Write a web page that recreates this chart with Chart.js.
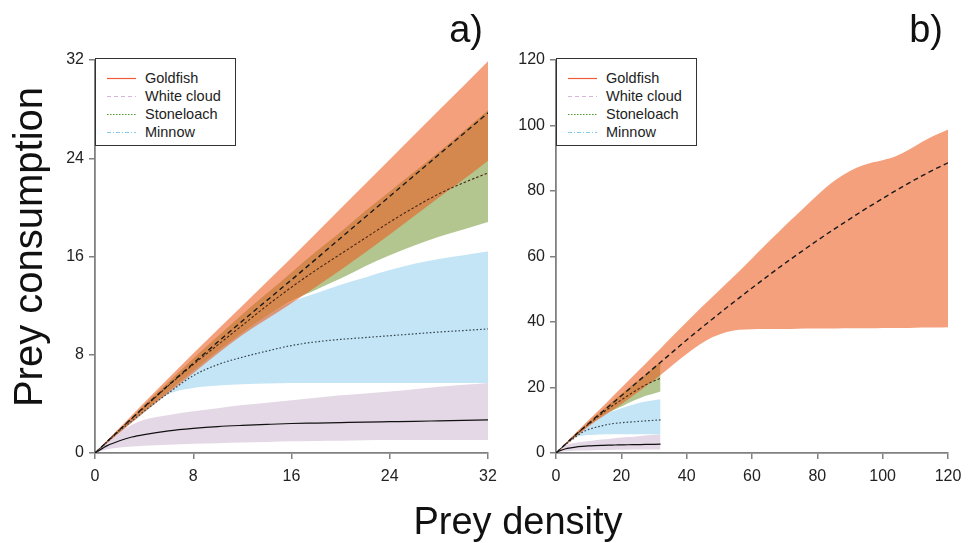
<!DOCTYPE html>
<html><head><meta charset="utf-8">
<script src="https://cdn.jsdelivr.net/npm/chart.js@4.4.1/dist/chart.umd.min.js"></script>
<style>
body{margin:0;background:#fff;}
#wrap{position:relative;width:970px;height:543px;overflow:hidden;background:#fff;font-family:"Liberation Sans",Arial,sans-serif;}
canvas{position:absolute;top:0;}
.lbl{position:absolute;color:#111;white-space:nowrap;}
.legend{position:absolute;top:58px;width:141px;height:88px;border:1px solid #333;background:#fff;box-sizing:border-box;}
.row{position:absolute;left:0;width:140px;height:18px;font-size:14.5px;line-height:18px;color:#222;}
.row svg{position:absolute;left:11px;top:8px;}
.row span{position:absolute;left:49px;top:0;}
</style></head>
<body>
<div id="wrap">
  <canvas id="ca" width="500" height="543" style="left:0px"></canvas>
  <canvas id="cb" width="510" height="543" style="left:460px"></canvas>
  <div class="lbl" style="left:400px;width:83px;text-align:right;top:10px;font-size:38px;line-height:38px;">a)</div>
  <div class="lbl" style="left:860px;width:83px;text-align:right;top:10px;font-size:38px;line-height:38px;">b)</div>
  <div class="lbl" style="left:-172px;top:227px;width:400px;height:40px;line-height:40px;text-align:center;font-size:40px;transform:rotate(-90deg);">Prey consumption</div>
  <div class="lbl" style="left:318px;top:502px;width:400px;height:38px;line-height:38px;text-align:center;font-size:38px;">Prey density</div>
  <div id="legA" class="legend" style="left:95px;"></div>
  <div id="legB" class="legend" style="left:556px;"></div>
</div>
<script>
// ---------- data ----------
const xA = [0,1,2,3,4,6,8,10,12,14,16,18,20,22,24,26,28,30,32];
// White cloud
const wcMean  = [0,0.6,1.0,1.3,1.5,1.8,2.0,2.15,2.25,2.33,2.4,2.44,2.48,2.52,2.55,2.58,2.62,2.66,2.7];
const wcUpper = [0,1.0,1.7,2.3,2.7,3.1,3.4,3.65,3.9,4.1,4.3,4.5,4.7,4.85,5.0,5.2,5.4,5.55,5.7];
const wcLower = [0,0.3,0.45,0.53,0.6,0.68,0.75,0.8,0.85,0.9,0.95,0.98,1.0,1.03,1.05,1.05,1.05,1.05,1.05];
// Minnow
const mnMean  = [0,0.9,1.8,2.6,3.4,4.9,6.3,7.2,7.8,8.3,8.75,9.05,9.25,9.4,9.55,9.7,9.85,9.97,10.1];
const mnUpper = [0,0.9,1.8,2.7,3.6,5.3,7.0,8.6,10.0,11.3,12.3,13.0,13.7,14.3,14.9,15.4,15.8,16.1,16.4];
const mnLower = [0,0.85,1.7,2.5,3.3,4.8,5.3,5.5,5.6,5.65,5.7,5.7,5.7,5.7,5.7,5.7,5.7,5.7,5.7];
// Stoneloach
const stMean  = [0,0.95,1.9,2.8,3.7,5.5,7.2,8.8,10.4,12.0,13.5,14.9,16.2,17.5,18.8,20.0,21.1,22.0,22.8];
const stUpper = [0,0.98,1.95,2.9,3.9,5.8,7.7,9.5,11.3,13.0,14.7,16.4,18.0,19.7,21.3,22.9,24.5,26.2,27.9];
const stLower = [0,0.85,1.7,2.55,3.4,5.05,6.7,8.3,9.8,11.2,12.4,13.3,14.2,15.2,16.1,16.9,17.6,18.2,18.8];
// Goldfish
const xG = [0,4,8,12,16,20,24,28,32,36,40,44,48,52,56,60,64,68,72,76,80,84,88,92,96,100,104,108,112,116,120];
const gfMean  = [0,3.75,7.3,10.75,14.1,17.5,20.9,24.3,27.7,31.1,34.5,37.8,41.0,44.2,47.3,50.4,53.4,56.4,59.3,62.1,64.9,67.6,70.2,72.8,75.3,77.7,80.1,82.4,84.6,86.7,88.6];
const gfUpper = [0,4.1,8.1,12.0,15.9,19.9,23.9,27.9,31.9,36.0,40.0,44.0,47.8,51.6,55.4,59.4,63.4,67.3,71.2,75.0,78.7,82.2,85.0,87.1,88.5,89.4,90.6,92.6,95.0,97.0,98.8];
const gfLower = [0,3.3,6.5,9.6,12.2,14.9,17.8,20.8,23.8,27.1,30.2,33.1,35.4,36.9,37.6,37.8,37.9,37.9,37.9,38.0,38.0,38.0,38.1,38.1,38.1,38.2,38.2,38.2,38.3,38.3,38.4];
// ticks
const ticksA = [0,8,16,24,32];
const ticksB = [0,20,40,60,80,100,120];
// legend
const legendNames = ["Goldfish","White cloud","Stoneloach","Minnow"];
const legendColors = ["#EE5B3A","#D6B6D6","#4E9A2E","#7FCBEE"];
const legendDash = ["", "4,3", "1.5,1.5", "4,2,1,2"];

// ---------- build ----------
const FONT = '"Liberation Sans", Arial, sans-serif';
function pts(xs, ys){ return xs.map((x,i)=>({x:x, y:ys[i]})); }
function line(xs, ys, color, dash, w){
  return {data:pts(xs,ys), borderColor:color, borderWidth:w||1.2, borderDash:dash, pointRadius:0, fill:false, cubicInterpolationMode:'monotone'};
}
function upper(xs, ys, color){
  return {data:pts(xs,ys), borderWidth:0, borderColor:'rgba(0,0,0,0)', backgroundColor:color, pointRadius:0, fill:'+1', cubicInterpolationMode:'monotone'};
}
function lower(xs, ys){
  return {data:pts(xs,ys), borderWidth:0, borderColor:'rgba(0,0,0,0)', pointRadius:0, fill:false, cubicInterpolationMode:'monotone'};
}
function datasets(){
  return [
    line(xG, gfMean, '#1a1a1a', [5,3.5], 1.4),
    line(xA, stMean, '#4a2414', [2.5,2], 1.1),
    line(xA, mnMean, '#35454f', [1.6,2], 1.2),
    line(xA, wcMean, '#111111', [], 1.2),
    upper(xG, gfUpper, 'rgba(236,91,29,0.58)'), lower(xG, gfLower),
    upper(xA, stUpper, '#B3C68F'), lower(xA, stLower),
    upper(xA, mnUpper, '#C3E5F5'), lower(xA, mnLower),
    upper(xA, wcUpper, '#E4D8E6'), lower(xA, wcLower)
  ];
}
function scale(ticks, isX, size){
  return {
    type:'linear', min:ticks[0], max:ticks[ticks.length-1],
    afterBuildTicks: s => { s.ticks = ticks.map(v=>({value:v})); },
    afterFit: s => {
      if(isX){ s.height = size; s.paddingLeft = 0; s.paddingRight = 0; }
      else { s.width = size; s.paddingTop = 0; s.paddingBottom = 0; }
    },
    ticks:{color:'#222', font:{family:FONT, size:16}, padding: isX?8:5, autoSkip:false, maxRotation:0, minRotation:0},
    grid:{display:true, drawOnChartArea:false, drawTicks:true, tickLength:6, color:'#808080', lineWidth:1.5},
    border:{display:true, color:'#808080', width:1.8}
  };
}
function make(id, ticks, yWidth, padRight){
  new Chart(document.getElementById(id), {
    type:'line',
    data:{datasets:datasets()},
    options:{
      responsive:false, animation:false, events:[],
      layout:{padding:{left:0, top:60, right:padRight, bottom:0}},
      plugins:{legend:{display:false}, tooltip:{enabled:false}, filler:{drawTime:'beforeDatasetsDraw', propagate:false}},
      scales:{x:scale(ticks, true, 90), y:scale(ticks, false, yWidth)}
    }
  });
}
make('ca', ticksA, 95, 12);
make('cb', ticksB, 96, 22);

function legend(id){
  const el = document.getElementById(id);
  legendNames.forEach((n,i)=>{
    const r = document.createElement('div');
    r.className='row'; r.style.top = (10 + i*18) + 'px';
    r.innerHTML = '<svg width="30" height="3"><line x1="0" y1="1.5" x2="29" y2="1.5" stroke="'+legendColors[i]+'" stroke-width="1.2"'+(legendDash[i]?' stroke-dasharray="'+legendDash[i]+'"':'')+'/></svg><span>'+n+'</span>';
    el.appendChild(r);
  });
}
legend('legA'); legend('legB');
</script>
</body></html>
